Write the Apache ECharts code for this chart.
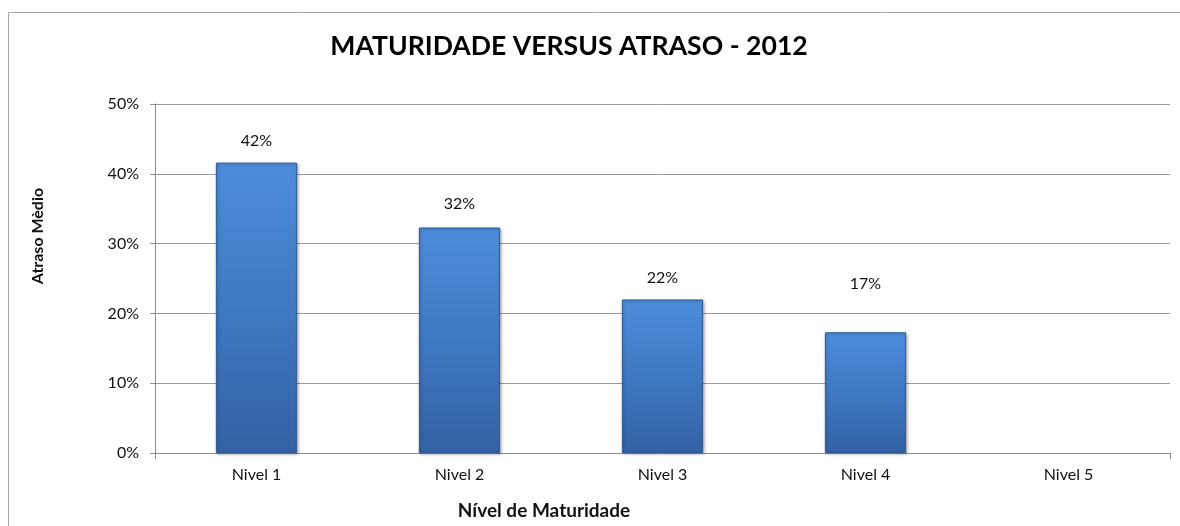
<!DOCTYPE html>
<html>
<head>
<meta charset="utf-8">
<style>
html,body{margin:0;padding:0;background:#fff;}
#chart{width:1180px;height:526px;}
</style>
<script src="https://cdn.jsdelivr.net/npm/echarts@6/dist/echarts.min.js"></script>
</head>
<body>
<div id="chart"></div>
<script>
const titleText = 'MATURIDADE VERSUS ATRASO - 2012';
const categories = ['Nivel 1', 'Nivel 2', 'Nivel 3', 'Nivel 4', 'Nivel 5'];
const values = [41.6, 32.3, 22.0, 17.3, null];
const labelTexts = ['42%', '32%', '22%', '17%', ''];
const yTicks = [0, 10, 20, 30, 40, 50];
const yName = 'Atraso Mèdio';
const xName = 'Nível de Maturidade';

const labelDist = [14, 16, 14, 40, 14];
const font = 'Lato, "Open Sans", sans-serif';

const chart = echarts.init(document.getElementById('chart'), null, {renderer: 'canvas'});
const barGrad = new echarts.graphic.LinearGradient(0, 0, 0, 1, [
  {offset: 0, color: '#4d8ddb'},
  {offset: 0.5, color: '#3f78c3'},
  {offset: 1, color: '#3462a3'}
]);
chart.setOption({
  backgroundColor: '#fff',
  animation: false,
  title: {
    text: titleText, left: 564, top: 28, textAlign: 'center',
    textStyle: {fontFamily: font, fontWeight: 'bold', fontSize: 26.6, color: '#000'}
  },
  graphic: [
    {type: 'rect', shape: {x: 8.5, y: 12.5, width: 1200, height: 600},
     style: {fill: 'none', stroke: '#a6a6a6', lineWidth: 1}, silent: true},
    {type: 'text', x: 38, y: 236, rotation: Math.PI / 2,
     style: {text: yName, fontFamily: font, fontWeight: 'bold', fontSize: 16, fill: '#111', align: 'center', verticalAlign: 'middle'}},
    {type: 'text', x: 544, y: 511,
     style: {text: xName, fontFamily: font, fontWeight: 'bold', fontSize: 19, fill: '#111', align: 'center', verticalAlign: 'middle'}}
  ],
  grid: {left: 155, right: 10, top: 104, bottom: 73},
  xAxis: {
    type: 'category', data: categories, boundaryGap: true,
    axisLine: {lineStyle: {color: '#8c8c8c', width: 1}},
    axisTick: {show: true, length: 6, interval: function (i) { return i === 0; }, lineStyle: {color: '#8c8c8c'}},
    axisLabel: {fontFamily: font, fontSize: 16, color: '#111', margin: 14}
  },
  yAxis: {
    type: 'value', min: yTicks[0], max: yTicks[yTicks.length - 1], interval: yTicks[1] - yTicks[0],
    axisLine: {show: true, lineStyle: {color: '#8c8c8c', width: 1}},
    axisTick: {show: true, length: 5, lineStyle: {color: '#8c8c8c'}},
    axisLabel: {formatter: '{value}%', fontFamily: font, fontSize: 16, color: '#111', margin: 16},
    splitLine: {show: true, lineStyle: {color: '#9a9a9a', width: 1}}
  },
  series: [{
    type: 'bar',
    barWidth: '40%',
    data: values.map((v, i) => ({
      value: v,
      label: {distance: labelDist[i]}
    })),
    itemStyle: {
      color: barGrad, borderColor: '#2f5c98', borderWidth: 1,
      shadowColor: 'rgba(0,0,0,0.3)', shadowBlur: 3, shadowOffsetX: 1, shadowOffsetY: 1
    },
    label: {
      show: true, position: 'top',
      formatter: p => labelTexts[p.dataIndex],
      fontFamily: font, fontSize: 16, color: '#111'
    }
  }]
});
</script>
</body>
</html>
